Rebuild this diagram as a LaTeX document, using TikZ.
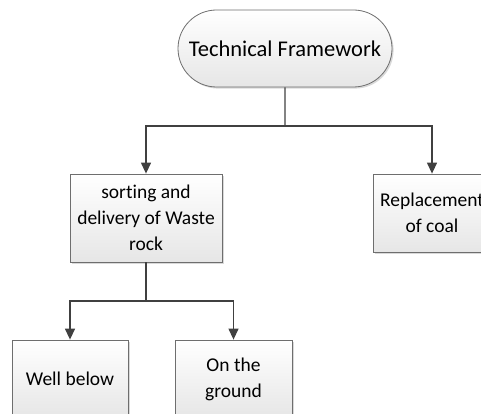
\documentclass[tikz,border=0pt]{standalone}
\usepackage{fontspec}
\setmainfont{Carlito}[Ligatures=NoCommon]
\usetikzlibrary{arrows.meta, positioning, shadows, shapes.misc}

\definecolor{linkgray}{HTML}{404040}
\definecolor{boxline}{HTML}{6E6E6E}
\definecolor{boxfill}{HTML}{E6E6E6}

\tikzset{
  boxbase/.style={draw=boxline, line width=0.8pt, top color=white, bottom color=boxfill,
    align=center, inner sep=3pt,
    drop shadow={shadow xshift=1.6pt, shadow yshift=-1.6pt, opacity=0.25, fill=black!60}},
  box/.style={boxbase, rectangle, font=\fontsize{19.5}{26}\selectfont},
  stadium/.style={boxbase, rounded rectangle, minimum width=220pt, minimum height=77pt,
    font=\fontsize{22.5}{27}\selectfont},
  link/.style={draw=linkgray, line width=1.3pt},
  linkarrow/.style={link, -{Triangle[length=11pt,width=10pt]}},
}

\begin{document}
\begin{tikzpicture}[x=1pt,y=-1pt]
            \useasboundingbox (0,0) rectangle (481,414);
            \clip (0,0) rectangle (481,414);

            \node[stadium] (tech) at (285,48.5) {Technical Framework};

            \node[box, minimum width=152pt, minimum height=88pt] (sort) at (146,218) {sorting and\\delivery of Waste\\rock};
            \node[box, minimum width=118pt, minimum height=78pt] (coal) at (432,213) {Replacement\\of coal};

            \node[box, minimum width=116pt, minimum height=78pt] (well) at (70,379) {Well below};
            \node[box, minimum width=117pt, minimum height=78pt] (ground) at (233.5,379) {On the\\ground};

            \coordinate (split1) at (285,126);% branch under the top node
            \coordinate (split2) at (146,301);% branch under the sorting box

            \draw[link] (tech) -- (split1);
            \draw[linkarrow] (split1) -| (sort);
            \draw[linkarrow] (split1) -| (coal);

            \draw[link] (sort) -- (split2);
            \draw[linkarrow] (split2) -| (well);
            \draw[linkarrow] (split2) -| (ground);
        \end{tikzpicture}
\end{document}
